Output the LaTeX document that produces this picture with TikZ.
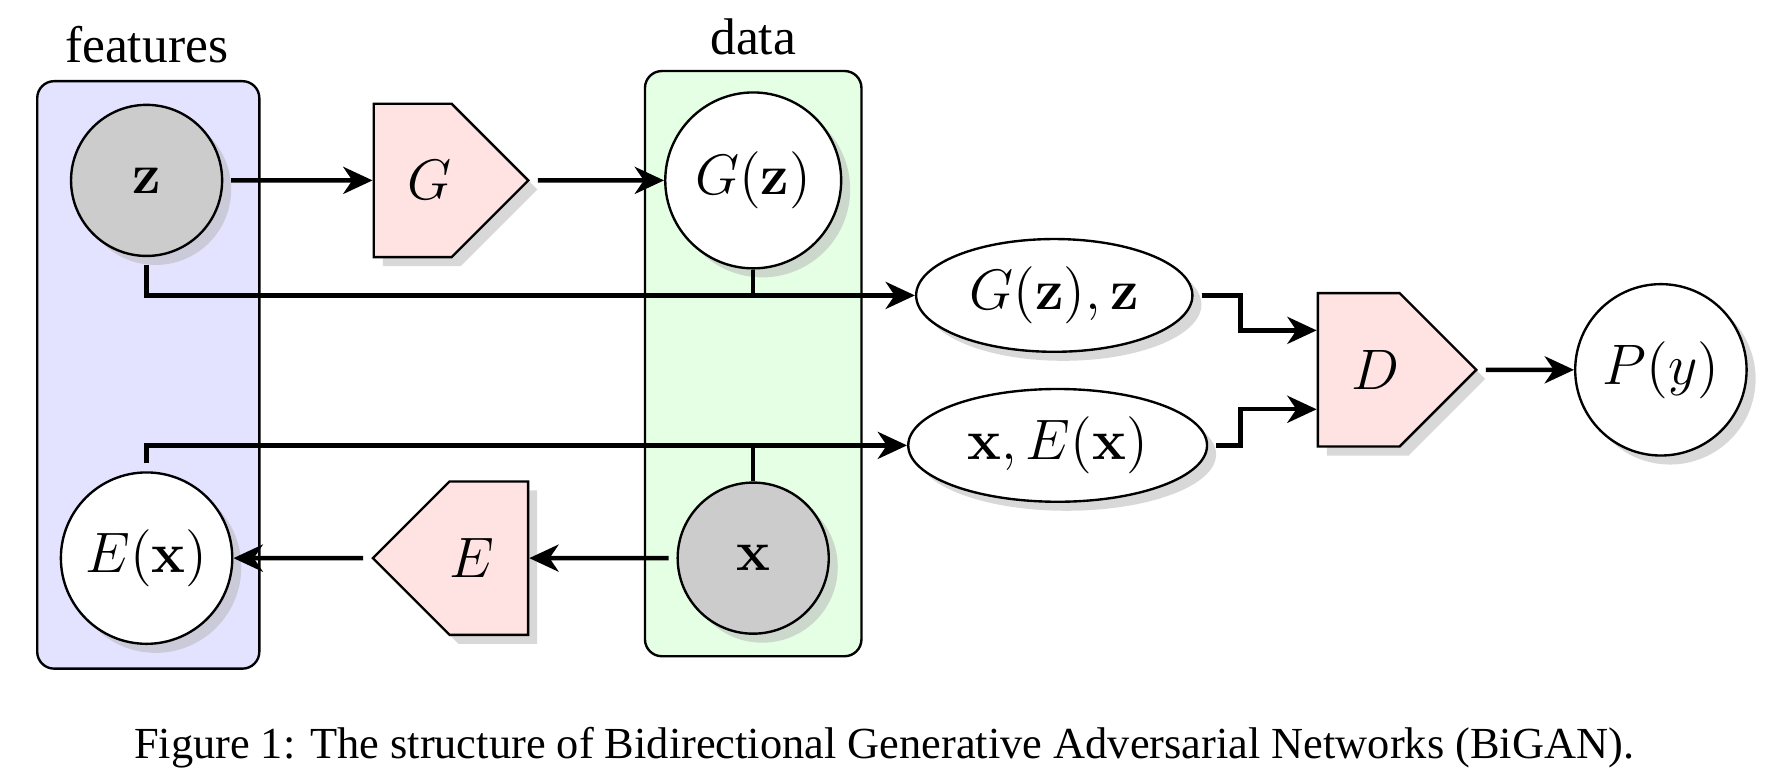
\documentclass[tikz,border=0pt]{standalone}
\usepackage{amsmath}
\usepackage{amssymb}
\usepackage[no-math]{fontspec}
\setmainfont{Liberation Serif}
\usepackage{tikz}
\usetikzlibrary{arrows.meta,shapes.geometric,shapes.symbols,shadows}

\tikzset{
  shdw/.style={drop shadow={shadow xshift=0.8mm, shadow yshift=-0.8mm, opacity=0.5, fill=black!30}},
  mathsize/.style={font=\fontsize{15}{17}\selectfont},
  var/.style={circle, draw, line width=0.6pt, fill=white, minimum size=1.56cm, inner sep=0pt, mathsize, shdw},
  obs/.style={var, fill=black!20, minimum size=1.34cm},
  pair/.style={ellipse, draw, line width=0.6pt, fill=white, minimum height=1cm, inner sep=0pt, mathsize, shdw},
  net/.style={signal, signal pointer angle=90, draw, line width=0.6pt, fill=red!11, minimum width=1.35cm, minimum height=1.36cm, inner sep=0pt, mathsize, shdw},
  plate/.style={rectangle, rounded corners=1.5mm, draw, line width=0.6pt, inner sep=0pt},
  arr/.style={line width=1.1pt, -{Stealth[length=2.6mm,width=2.4mm,inset=0.8mm]}, shorten <=2pt},
  lnk/.style={line width=1.1pt}
}

\begin{document}
\begin{tikzpicture}[font=\fontsize{13}{15}\selectfont]
\useasboundingbox (0,0) rectangle (15.68,6.90);

\node[plate, fill=blue!11, minimum width=1.97cm, minimum height=5.21cm] (featbox) at (1.315,3.575) {};
\node[plate, fill=green!10, minimum width=1.92cm, minimum height=5.19cm] (databox) at (6.68,3.675) {};
\node (featlabel) at (1.30,6.50) {features};
\node (datalabel) at (6.68,6.57) {data};

\node[obs] (z) at (1.30,5.30) {$\mathbf{z}$};
\node[net, signal to=east] (G) at (3.66,5.30) {\hspace*{3mm}$G$};
\node[var] (Gz) at (6.68,5.30) {$G(\mathbf{z})$};
\node[pair, minimum width=2.45cm] (pairz) at (9.35,4.28) {$G(\mathbf{z}),\mathbf{z}$};
\node[pair, minimum width=2.65cm] (pairx) at (9.38,2.95) {$\mathbf{x},E(\mathbf{x})$};
\node[net, signal to=east] (D) at (12.05,3.62) {\hspace*{3mm}$D$};
\node[var, minimum size=1.52cm] (Py) at (14.73,3.62) {$P(y)$};
\node[obs] (x) at (6.68,1.95) {$\mathbf{x}$};
\node[net, signal to=west] (E) at (4.335,1.95) {$E$\hspace*{3mm}};
\node[var, minimum size=1.52cm] (Ex) at (1.30,1.95) {$E(\mathbf{x})$};
\coordinate (bend) at (11.0,0);

\node[font=\fontsize{11.2}{13}\selectfont] (caption) at (7.84,0.27) {Figure 1: The structure of Bidirectional Generative Adversarial Networks (BiGAN).};

\draw[arr] (z) -- (G);
\draw[arr] (G) -- (Gz);
\draw[arr] (z.south) |- (pairz.west);
\draw[lnk] (Gz.south) -- (Gz.south |- pairz.west);
\draw[arr] (Ex.north) |- (pairx.west);
\draw[lnk] (x.north) -- (x.north |- pairx.west);
\draw[arr] (pairz.east) -- (pairz.east -| bend) |- ([yshift=3.5mm]D.west);
\draw[arr] (pairx.east) -- (pairx.east -| bend) |- ([yshift=-3.5mm]D.west);
\draw[arr] (D) -- (Py);
\draw[arr] (x) -- (E);
\draw[arr] (E) -- (Ex);

\end{tikzpicture}
\end{document}
